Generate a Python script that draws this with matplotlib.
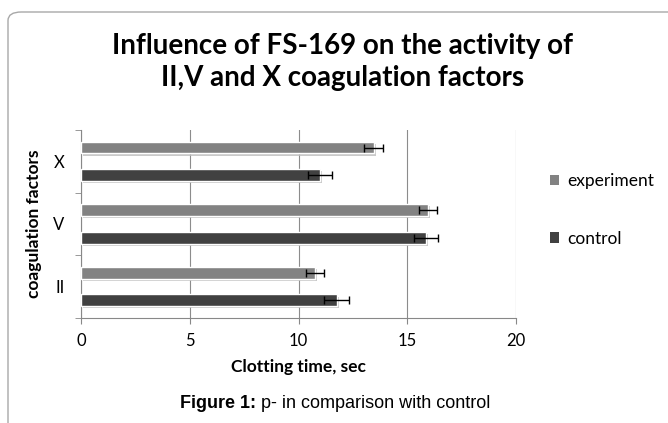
import numpy as np
import matplotlib
matplotlib.use("Agg")
import matplotlib.pyplot as plt
from matplotlib.patches import FancyBboxPatch, Patch
import matplotlib.patheffects as pe

factors = ["II", "V", "X"]
experiment = [10.76, 15.95, 13.45]
experiment_err = [0.42, 0.43, 0.45]
control = [11.75, 15.87, 11.0]
control_err = [0.56, 0.54, 0.55]

col_exp = "#828282"
col_ctl = "#414141"

plt.rcParams['font.family'] = ['Lato', 'DejaVu Sans']

fig = plt.figure(figsize=(6.68, 4.23), dpi=100)
W, H = 668, 423

# outer rounded frame
frame = FancyBboxPatch((8 / W, -0.05), 1.2, 1 - 12 / H + 0.05,
                       boxstyle="round,pad=0,rounding_size=0.02",
                       transform=fig.transFigure, fill=False,
                       edgecolor="#a8a8a8", linewidth=1.0)
fig.patches.append(frame)

ax = fig.add_axes([81 / W, 1 - 318 / H, (516 - 81) / W, (318 - 130) / H])

y = np.arange(len(factors))
off = 0.22
h = 0.19
shadow = [pe.withSimplePatchShadow(offset=(1.5, -1.5), shadow_rgbFace="#bdbdbd", alpha=0.8)]

ax.barh(y + off, experiment, height=h, color=col_exp, edgecolor="white",
        linewidth=1, label="experiment", path_effects=shadow, zorder=3)
ax.barh(y - off, control, height=h, color=col_ctl, edgecolor="white",
        linewidth=1, label="control", path_effects=shadow, zorder=3)
ax.errorbar(experiment, y + off, xerr=experiment_err, fmt="none", ecolor="black",
            elinewidth=1, capsize=3, capthick=1, zorder=4)
ax.errorbar(control, y - off, xerr=control_err, fmt="none", ecolor="black",
            elinewidth=1, capsize=3, capthick=1, zorder=4)

ax.set_xlim(0, 20)
ax.set_ylim(-0.5, 2.5)
ax.set_xticks([0, 5, 10, 15, 20])
ax.tick_params(axis="x", labelsize=12, length=4, color="#888888", pad=7)
ax.set_yticks(y)
ax.set_yticklabels(factors)
ax.set_yticks([-0.5, 0.5, 1.5, 2.5], minor=True)
ax.tick_params(axis="y", which="major", length=0, labelsize=12, pad=12)
ax.tick_params(axis="y", which="minor", length=4, color="#888888")
ax.grid(axis="x", color="#8c8c8c", linewidth=0.8, zorder=0)
ax.set_axisbelow(True)
for s in ["top", "right"]:
    ax.spines[s].set_visible(False)
ax.spines["left"].set_color("#888888")
ax.spines["bottom"].set_color("#888888")

ax.set_xlabel("Clotting time, sec", fontsize=12.5, fontweight="bold", labelpad=7)
ax.set_ylabel("coagulation factors", fontsize=12.5, fontweight="bold", labelpad=8)

fig.text(0.5 + 9 / W, 1 - 62 / H, "Influence of FS-169 on the activity of\nII,V and X coagulation factors",
         ha="center", va="center", fontsize=20, fontweight="bold", linespacing=1.25)

handles = [Patch(facecolor=col_exp), Patch(facecolor=col_ctl)]
fig.legend(handles, ["experiment", "control"], loc="center left",
           bbox_to_anchor=(534 / W, 1 - 210 / H), frameon=False, fontsize=12.5,
           handlelength=0.55, handleheight=0.55, handletextpad=0.45, labelspacing=2.4)

# caption: bold "Figure 1:" followed by regular text
cap_font = ["Liberation Sans", "DejaVu Sans"]
t1 = fig.text(180 / W, 1 - 403 / H, "Figure 1:", ha="left", va="center",
              fontsize=13, fontweight="bold", family=cap_font)
fig.add_artist(plt.Annotation(" p- in comparison with control", xy=(1, 0.5), xycoords=t1,
                              ha="left", va="center", fontsize=13, family=cap_font))

fig.savefig("out.png", dpi=100)
